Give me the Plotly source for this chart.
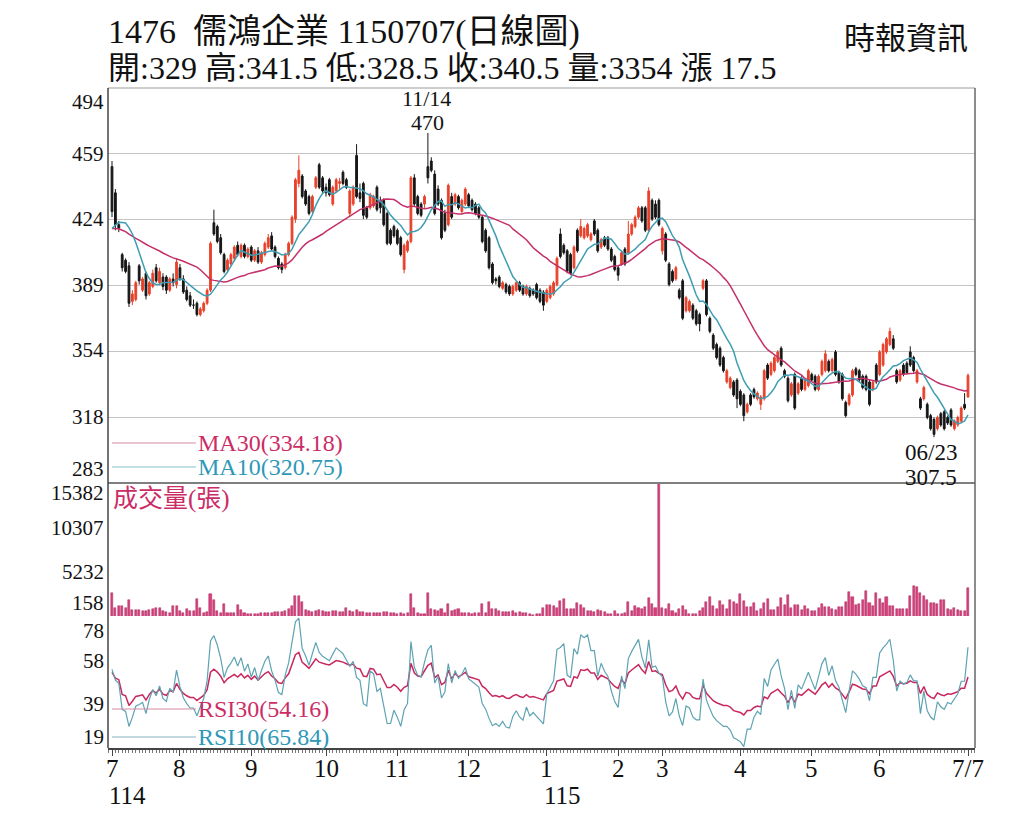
import plotly.graph_objects as go
import pandas as pd

# ---------------- data ----------------
# closes of the sessions before the first visible day (warm-up for MA / RSI)
prior_close = [418, 423, 420, 426, 421, 417, 422, 428, 424, 419,
               415, 420, 425, 422, 418, 423, 427, 421, 416, 420,
               424, 419, 414, 418, 423, 426, 420, 417, 421, 424,
               420,
               425, 422, 420, 418, 421, 423, 419, 417, 420, 422,
               421, 418, 419, 422, 420, 418, 415, 413, 412, 415,
               405, 402, 400, 398, 404, 418, 435, 448, 452]

opens = [
    452, 438, 421, 405, 402, 399, 380, 381, 399, 386,
    395, 384, 388, 398, 390, 393, 393, 386, 392, 389,
    398, 392, 386, 383, 378, 379, 373, 375, 379, 386,
    422, 420, 414, 405, 397, 400, 403, 410, 404, 410,
    404, 409, 402, 407, 401, 405, 409, 415, 409, 403,
    400, 398, 405, 411, 424, 443, 447, 439, 436, 428,
    441, 453, 446, 441, 445, 432, 439, 443, 449, 445,
    427, 432, 458, 438, 443, 430, 430, 431, 441, 434,
    434, 427, 418, 420, 418, 414, 397, 407, 412, 446,
    436, 432, 432, 452, 455, 448, 440, 434, 427, 421,
    436, 432, 436, 428, 432, 437, 434, 432, 430, 425,
    418, 414, 400, 392, 393, 387, 389, 388, 384, 386,
    390, 388, 384, 387, 386, 389, 386, 385, 380, 382,
    384, 389, 416, 410, 407, 405, 398, 418, 415, 414,
    415, 413, 423, 418, 409, 414, 414, 408, 404, 398,
    400, 408, 406, 416, 420, 425, 430, 430, 418, 434,
    432, 434, 407, 416, 400, 396, 392, 386, 391, 375,
    375, 378, 375, 373, 387, 391, 371, 362, 357, 355,
    350, 337, 334, 337, 338, 332, 330, 321, 330, 333,
    328, 325, 328, 346, 341, 343, 348, 355, 343, 339,
    330, 341, 331, 339, 333, 335, 341, 340, 333, 341,
    343, 348, 343, 353, 342, 341, 326, 325, 330, 344,
    343, 340, 340, 337, 333, 346, 341, 346, 353, 357,
    360, 343, 338, 346, 347, 353, 350, 337, 328, 328,
    325, 319, 317, 312, 320, 321, 318, 322, 312, 314,
    316, 325, 329]
highs = [
    455, 440, 423, 406, 403, 401, 386, 391, 400, 393,
    396, 391, 397, 400, 398, 395, 394, 393, 395, 403,
    400, 394, 388, 385, 381, 380, 377, 380, 387, 412,
    429, 421, 416, 406, 403, 406, 410, 412, 411, 411,
    409, 410, 408, 409, 407, 412, 416, 417, 410, 404,
    401, 406, 412, 426, 446, 458, 448, 440, 437, 437,
    447, 454, 447, 443, 446, 442, 446, 446, 450, 446,
    440, 442, 464, 443, 444, 431, 438, 437, 442, 436,
    435, 428, 419, 421, 419, 415, 411, 413, 447, 448,
    437, 433, 437, 470, 457, 450, 442, 435, 429, 443,
    438, 438, 437, 435, 441, 438, 435, 433, 431, 426,
    419, 415, 401, 393, 394, 391, 390, 389, 389, 391,
    391, 389, 389, 388, 387, 390, 387, 386, 387, 389,
    391, 404, 419, 411, 408, 406, 410, 419, 424, 420,
    422, 417, 424, 419, 414, 415, 415, 409, 405, 399,
    407, 409, 423, 422, 426, 431, 431, 431, 441, 435,
    434, 435, 420, 417, 401, 397, 399, 387, 392, 383,
    381, 379, 376, 374, 392, 392, 372, 363, 358, 356,
    351, 344, 340, 338, 339, 333, 331, 326, 331, 334,
    332, 330, 344, 347, 348, 351, 354, 356, 344, 340,
    337, 342, 337, 340, 339, 344, 342, 341, 341, 349,
    354, 349, 350, 354, 343, 342, 327, 331, 344, 345,
    344, 341, 341, 338, 338, 347, 354, 358, 361, 366,
    362, 344, 344, 347, 348, 356, 351, 344, 329, 335,
    326, 320, 318, 319, 321, 322, 319, 323, 317, 319,
    324, 331, 341.5]
lows = [
    425, 418, 417, 396, 395, 377, 378, 380, 389, 385,
    381, 383, 387, 390, 389, 386, 384, 385, 388, 387,
    391, 384, 380, 377, 376, 372, 372, 374, 378, 385,
    415, 411, 405, 395, 396, 399, 402, 404, 403, 403,
    403, 401, 401, 400, 400, 404, 408, 407, 403, 397,
    395, 397, 404, 410, 422, 441, 435, 431, 426, 427,
    440, 440, 438, 436, 436, 431, 438, 440, 442, 440,
    425, 431, 435, 433, 424, 424, 429, 430, 428, 427,
    420, 410, 410, 414, 410, 404, 395, 406, 411, 431,
    426, 425, 430, 443, 449, 426, 431, 413, 417, 420,
    424, 431, 429, 427, 431, 430, 428, 426, 424, 411,
    406, 397, 389, 389, 387, 386, 384, 383, 383, 385,
    385, 383, 383, 382, 383, 381, 379, 375, 379, 381,
    383, 388, 403, 405, 395, 394, 397, 406, 414, 413,
    414, 412, 415, 406, 408, 409, 407, 401, 396, 391,
    399, 399, 405, 415, 419, 424, 422, 417, 417, 423,
    424, 420, 405, 401, 388, 390, 391, 381, 370, 374,
    374, 370, 367, 364, 386, 372, 363, 354, 349, 345,
    342, 336, 333, 329, 323, 324, 316, 320, 324, 328,
    327, 322, 327, 338, 340, 342, 347, 345, 339, 326,
    329, 322, 330, 332, 332, 334, 337, 332, 332, 340,
    342, 342, 342, 340, 336, 327, 318, 324, 329, 340,
    337, 333, 332, 324, 332, 336, 340, 345, 352, 356,
    354, 336, 337, 340, 341, 345, 342, 336, 322, 327,
    317, 311, 307.5, 311, 313, 311, 314, 313, 311, 313,
    315, 322, 328.5]
closes = [
    428, 421, 419, 398, 396, 379, 384, 390, 391, 392,
    383, 390, 395, 391, 396, 388, 386, 392, 390, 401,
    392, 385, 381, 378, 378, 373, 376, 379, 386, 411,
    416, 412, 406, 396, 402, 405, 409, 405, 410, 404,
    408, 402, 407, 401, 406, 411, 414, 408, 404, 398,
    397, 405, 411, 425, 445, 450, 436, 432, 427, 436,
    446, 441, 439, 438, 437, 441, 445, 444, 443, 441,
    439, 441, 436, 435, 426, 425, 437, 436, 429, 430,
    421, 411, 411, 415, 411, 405, 410, 412, 446, 432,
    427, 426, 436, 446, 450, 427, 432, 414, 418, 442,
    425, 437, 430, 434, 440, 431, 429, 427, 425, 412,
    407, 398, 390, 391, 388, 390, 385, 384, 388, 390,
    386, 384, 388, 383, 384, 382, 380, 378, 386, 388,
    390, 403, 404, 406, 396, 395, 409, 407, 420, 419,
    421, 416, 416, 407, 413, 410, 408, 402, 397, 394,
    406, 400, 416, 421, 425, 430, 423, 418, 439, 424,
    425, 421, 419, 402, 389, 391, 398, 382, 371, 382,
    380, 371, 368, 368, 391, 373, 364, 355, 350, 346,
    343, 343, 339, 330, 328, 325, 319, 325, 325, 329,
    331, 329, 343, 339, 347, 350, 353, 346, 340, 327,
    336, 323, 336, 333, 338, 343, 338, 333, 340, 348,
    352, 343, 349, 341, 337, 328, 319, 330, 343, 341,
    338, 334, 333, 325, 337, 337, 353, 357, 360, 364,
    355, 337, 343, 341, 342, 346, 343, 343, 323, 334,
    318, 312, 309, 318, 314, 312, 315, 314, 316, 318,
    323, 323, 340.5]
volumes = [
    2850, 1100, 1300, 1300, 1100, 2000, 900, 900, 800, 750,
    700, 900, 1000, 1100, 1100, 750, 600, 550, 1300, 1300,
    750, 550, 950, 750, 750, 2150, 1100, 450, 600, 2650,
    2000, 750, 550, 1600, 550, 450, 550, 1400, 850, 550,
    400, 400, 400, 350, 450, 500, 450, 550, 600, 600,
    650, 700, 950, 1300, 2450, 2450, 1750, 900, 700, 650,
    750, 800, 700, 650, 600, 750, 700, 600, 650, 1100,
    700, 600, 900, 600, 650, 550, 500, 450, 550, 500,
    600, 650, 500, 450, 400, 450, 400, 500, 2650, 1100,
    550, 350, 350, 2850, 950, 800, 750, 1000, 550, 1500,
    750, 800, 950, 500, 450, 550, 400, 450, 500, 1500,
    550, 1750, 1000, 950, 700, 600, 650, 600, 700, 550,
    600, 500, 450, 350, 300, 350, 400, 1100, 1400, 1400,
    1300, 1100, 1900, 2150, 950, 950, 950, 1650, 1400, 1100,
    750, 700, 600, 800, 700, 650, 400, 350, 750, 400,
    350, 550, 1750, 750, 1300, 1100, 1000, 1200, 2200, 1600,
    1100, 15382, 1100, 950, 1500, 750, 550, 1000, 1300, 800,
    400, 350, 400, 700, 1100, 1750, 2400, 1300, 1000, 1900,
    1450, 1000, 2000, 1800, 1550, 2750, 1900, 1200, 1200, 1700,
    750, 950, 1700, 2100, 800, 800, 1200, 2200, 1400, 2550,
    1100, 1400, 1450, 850, 1300, 950, 700, 750, 1100, 1600,
    1150, 1150, 950, 850, 1200, 1250, 1750, 2900, 2300, 1450,
    1500, 2000, 3050, 1700, 1300, 2850, 2100, 1700, 2400, 1350,
    1350, 1000, 1000, 1000, 1000, 2500, 3600, 3500, 2850, 2500,
    2000, 1700, 1700, 1600, 1950, 1950, 1000, 900, 1100, 900,
    700, 700, 3354]

month_pos = [0, 20, 41, 63, 84, 105, 128, 149, 162, 185, 206, 226, 252]
month_labels = ["7", "8", "9", "10", "11", "12", "1", "2", "3", "4", "5", "6", "7/7"]
year_pos = [0, 128]
year_labels = ["114", "115"]

price_ticks = [494, 459, 424, 389, 354, 318, 283]
vol_ticks = [15382, 10307, 5232, 158]
rsi_ticks = [78, 58, 39, 19]

title_text = "1476  儒鴻企業 1150707(日線圖)"
info_text = "開:329 高:341.5 低:328.5 收:340.5 量:3354 漲 17.5"
source_text = "時報資訊"
legend_ma30 = "MA30(334.18)"
legend_ma10 = "MA10(320.75)"
legend_vol = "成交量(張)"
legend_rsi30 = "RSI30(54.16)"
legend_rsi10 = "RSI10(65.84)"

# ---------------- derived indicators ----------------
n_prior = len(prior_close)
allc = pd.Series(prior_close + closes, dtype=float)
ma10 = allc.rolling(10, min_periods=1).mean().iloc[n_prior:].tolist()
ma30 = allc.rolling(30, min_periods=1).mean().iloc[n_prior:].tolist()


def rsi(s, n):
    d = s.diff().fillna(0)
    up = d.clip(lower=0)
    dn = (-d).clip(lower=0)
    au = up.ewm(alpha=1.0 / n, adjust=False).mean()
    ad = dn.ewm(alpha=1.0 / n, adjust=False).mean()
    return (100 * au / (au + ad)).fillna(50)


rsi10 = rsi(allc, 10).iloc[n_prior:].tolist()
rsi30 = rsi(allc, 30).iloc[n_prior:].tolist()

N = len(closes)
xs = list(range(N))

# ---------------- geometry helpers ----------------
W, H = 1024, 819


def px(v):
    return v / W


def py(v):
    return 1 - v / H


X0, X1 = 108, 975
P_TOP, P_BOT = 88, 483
V_TOP, V_BOT = 484, 616
R_TOP, R_BOT = 617, 748

SERIF = "Liberation Serif, 'Noto Sans CJK TC', serif"
RED = "#e8412a"
BLACK = "#161616"
MA30_C = "#c4306a"
MA10_C = "#3f9db3"
RSI30_C = "#c8285e"
RSI10_C = "#5ea3b3"

fig = go.Figure()

fig.add_trace(go.Candlestick(
    x=xs, open=opens, high=highs, low=lows, close=closes,
    increasing=dict(line=dict(color=RED, width=1), fillcolor=RED),
    decreasing=dict(line=dict(color=BLACK, width=1), fillcolor=BLACK),
    whiskerwidth=0, xaxis="x", yaxis="y", showlegend=False, hoverinfo="skip"))
fig.add_trace(go.Scatter(x=xs, y=ma30, mode="lines", line=dict(color=MA30_C, width=1.5),
                         xaxis="x", yaxis="y", showlegend=False, hoverinfo="skip"))
fig.add_trace(go.Scatter(x=xs, y=ma10, mode="lines", line=dict(color=MA10_C, width=1.5),
                         xaxis="x", yaxis="y", showlegend=False, hoverinfo="skip"))

fig.add_trace(go.Bar(x=xs, y=volumes, width=0.6,
                     marker=dict(color="#dc3f7e", line=dict(color="#a32a5c", width=0.5)),
                     xaxis="x2", yaxis="y2", showlegend=False, hoverinfo="skip"))

fig.add_trace(go.Scatter(x=xs, y=rsi30, mode="lines", line=dict(color=RSI30_C, width=1.5),
                         xaxis="x3", yaxis="y3", showlegend=False, hoverinfo="skip"))
fig.add_trace(go.Scatter(x=xs, y=rsi10, mode="lines", line=dict(color=RSI10_C, width=1.2),
                         xaxis="x3", yaxis="y3", showlegend=False, hoverinfo="skip"))

# x range so that index 0 sits at px 112 and the last index at px 968
spp = (968 - 112) / (N - 1)
xr = [-(112 - X0) / spp, (N - 1) + (X1 - 968) / spp]
xdom = [px(X0), px(X1)]

p_lo, p_hi = min(price_ticks), max(price_ticks)
p_grid = [p_lo + k * (p_hi - p_lo) / 6 for k in range(1, 6)]

common_x = dict(domain=xdom, range=xr, showgrid=False, zeroline=False, fixedrange=True)

fig.update_layout(
    width=W, height=H, margin=dict(l=0, r=0, t=0, b=0),
    paper_bgcolor="white", plot_bgcolor="white",
    bargap=0, boxgap=0.25, showlegend=False,
    xaxis=dict(**common_x, anchor="y", showticklabels=False, ticks="",
               rangeslider=dict(visible=False)),
    xaxis2=dict(**common_x, anchor="y2", showticklabels=False, ticks="", matches="x"),
    xaxis3=dict(**common_x, anchor="y3", matches="x",
                tickmode="array", tickvals=month_pos, ticktext=month_labels,
                showticklabels=False,
                ticks="outside", ticklen=6, tickcolor="#444", tickwidth=1,
                showline=True, linecolor="#444", linewidth=1.5,
                minor=dict(tickmode="linear", tick0=0, dtick=1, ticks="outside",
                           ticklen=3, tickcolor="#777", tickwidth=1)),
    yaxis=dict(domain=[py(P_BOT), py(P_TOP)], range=[p_lo, p_hi], anchor="x",
               tickmode="array", tickvals=p_grid, showticklabels=False, ticks="",
               showgrid=True, gridcolor="#c4c4c4", gridwidth=1.3, zeroline=False,
               fixedrange=True),
    yaxis2=dict(domain=[py(V_BOT), py(V_TOP)], range=[min(vol_ticks), max(vol_ticks)],
                anchor="x2", showticklabels=False, ticks="", showgrid=False,
                zeroline=False, fixedrange=True),
    yaxis3=dict(domain=[py(R_BOT), py(R_TOP)], range=[min(rsi_ticks), max(rsi_ticks)],
                anchor="x3", showticklabels=False, ticks="", showgrid=False,
                zeroline=False, fixedrange=True),
)

# ---------------- frame lines ----------------
shapes = []


def hline(y, x0, x1, color, w):
    shapes.append(dict(type="line", xref="paper", yref="paper", x0=px(x0), x1=px(x1),
                       y0=py(y), y1=py(y), line=dict(color=color, width=w)))


def vline(x, y0, y1, color, w):
    shapes.append(dict(type="line", xref="paper", yref="paper", x0=px(x), x1=px(x),
                       y0=py(y0), y1=py(y1), line=dict(color=color, width=w)))


hline(P_TOP, X0, X1, "#bdbdbd", 1.5)
hline(P_BOT, X0, X1, "#555555", 1.5)
vline(X0, P_TOP, R_BOT, "#444444", 1.5)
vline(X1, P_TOP, R_BOT, "#666666", 1.5)
# legend sample lines
hline(443, 112, 196, "#d88aa6", 1.2)
hline(467, 112, 196, "#86c0cc", 1.2)
hline(709, 112, 196, "#d88aa6", 1.2)
hline(737, 112, 196, "#86b6c0", 1.2)
fig.update_layout(shapes=shapes)

# ---------------- texts ----------------
ann = []


def text(t, x, y, size, color="#111", xanchor="left", yanchor="middle", xref="paper",
         yref="paper", yshift=0, xshift=0):
    ann.append(dict(text=t, x=x, y=y, xref=xref, yref=yref, xanchor=xanchor,
                    yanchor=yanchor, showarrow=False, yshift=yshift, xshift=xshift,
                    font=dict(family=SERIF, size=size, color=color)))


text(title_text, px(106), py(32), 34)
text(info_text, px(106), py(68), 32)
text(source_text, px(970), py(38), 31, xanchor="right")

# price axis labels (edge labels pulled inside)
for v in price_ticks:
    shift = -14 if v == p_hi else (14 if v == p_lo else 0)
    text(str(v), px(106), v, 21, xanchor="right", yref="y", yshift=shift)
for v in vol_ticks:
    shift = -9 if v == max(vol_ticks) else (13 if v == min(vol_ticks) else 0)
    text(str(v), px(106), v, 21, xanchor="right", yref="y2", yshift=shift)
for v in rsi_ticks:
    shift = -14 if v == max(rsi_ticks) else (11 if v == min(rsi_ticks) else 0)
    text(str(v), px(106), v, 21, xanchor="right", yref="y3", yshift=shift)

# month labels under the ticks, year labels below them
for pos, lab in zip(month_pos, month_labels):
    text(lab, pos, py(768), 25, xanchor="center", xref="x3")
for pos, lab in zip(year_pos, year_labels):
    text(lab, pos, py(795), 25, xanchor="left", xref="x3", xshift=-5)

# legends
text(legend_ma30, px(196), py(443), 24, color="#cc2c66")
text(legend_ma10, px(196), py(467), 24, color="#2f98b8")
text(legend_vol, px(111), py(499), 25, color="#cc2c66")
text(legend_rsi30, px(196), py(709), 24, color="#cc2c66")
text(legend_rsi10, px(196), py(737), 24, color="#2f98b8")

# high / low callouts
i_hi = highs.index(max(highs))
i_lo = lows.index(min(lows))
text("11/14", i_hi - 0.5, py(98), 22, xanchor="center", xref="x")
text(str(int(max(highs))), i_hi, py(122), 22, xanchor="center", xref="x")
text("06/23", i_lo - 1, py(452), 23, xanchor="center", xref="x")
text(str(min(lows)), i_lo - 1, py(477), 23, xanchor="center", xref="x")

fig.update_layout(annotations=ann)

fig.write_html("out.html")
